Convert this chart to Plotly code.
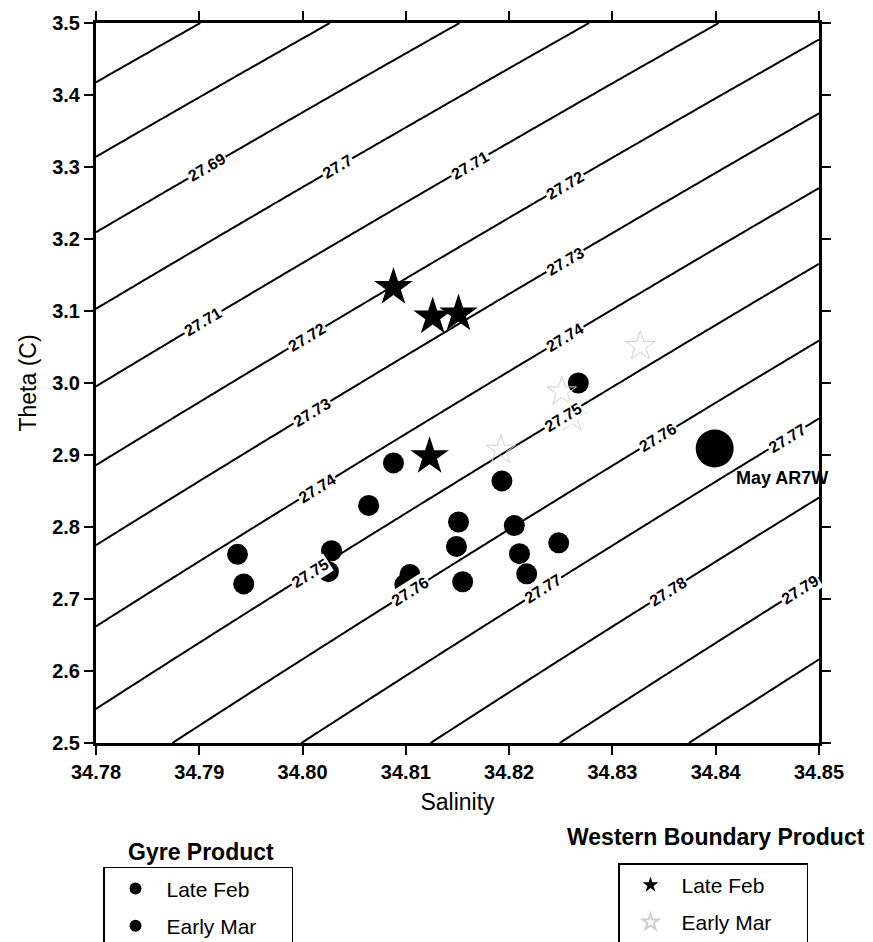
import numpy as np
import plotly.graph_objects as go

# ---------------- data ----------------
gyre_feb_sal = [34.7937, 34.7943, 34.8028, 34.8025, 34.8064, 34.8088, 34.8099, 34.8104]
gyre_feb_theta = [2.762, 2.721, 2.767, 2.738, 2.830, 2.889, 2.720, 2.734]
gyre_mar_sal = [34.8193, 34.8151, 34.8149, 34.8155, 34.8205, 34.8210, 34.8217, 34.8248, 34.8267]
gyre_mar_theta = [2.864, 2.807, 2.773, 2.724, 2.802, 2.763, 2.735, 2.778, 3.000]

wb_feb_sal = [34.8088, 34.8126, 34.8151, 34.8123]
wb_feb_theta = [3.133, 3.092, 3.096, 2.898]
wb_mar_sal = [34.8192, 34.8251, 34.8261, 34.8327]
wb_mar_theta = [2.907, 2.988, 2.952, 3.051]

ar7w_sal = [34.8399]
ar7w_theta = [2.909]
ar7w_label = "May AR7W"

sal_range = [34.78, 34.85]
theta_range = [2.5, 3.5]
sal_ticks = [34.78, 34.79, 34.80, 34.81, 34.82, 34.83, 34.84, 34.85]
theta_ticks = [2.5, 2.6, 2.7, 2.8, 2.9, 3.0, 3.1, 3.2, 3.3, 3.4, 3.5]

contour_start, contour_end, contour_step = 27.67, 27.80, 0.01

# contour labels: (sigma level, salinity where the label sits)
label_levels = [27.69, 27.70, 27.71, 27.71, 27.72, 27.72, 27.73, 27.73, 27.74, 27.74,
                27.75, 27.75, 27.76, 27.76, 27.77, 27.77, 27.78, 27.79]
label_sal = [34.7907, 34.8034, 34.7904, 34.8162, 34.8004, 34.8254, 34.8009, 34.8254, 34.8014, 34.8254,
             34.8007, 34.8252, 34.8104, 34.8344, 34.8233, 34.8469, 34.8354, 34.8482]


# ---------------- UNESCO 1980 EOS at p = 0 (sigma-theta) ----------------
def sigma0(S, T):
    S = np.asarray(S, dtype=float)
    T = np.asarray(T, dtype=float)
    rw = (999.842594 + 6.793952e-2 * T - 9.095290e-3 * T**2 + 1.001685e-4 * T**3
          - 1.120083e-6 * T**4 + 6.536332e-9 * T**5)
    A = 0.824493 - 4.0899e-3 * T + 7.6438e-5 * T**2 - 8.2467e-7 * T**3 + 5.3875e-9 * T**4
    B = -5.72466e-3 + 1.0227e-4 * T - 1.6546e-6 * T**2
    C = 4.8314e-4
    return rw + A * S + B * S**1.5 + C * S**2 - 1000.0


S_grid = np.linspace(sal_range[0], sal_range[1], 141)
T_grid = np.linspace(theta_range[0], theta_range[1], 201)
SS, TT = np.meshgrid(S_grid, T_grid)
sig = sigma0(SS, TT)

# ---------------- layout geometry (page body adds an 8px offset) ----------------
W, H = 873, 1000          # extra height lies below the visible window, leaving room for the legends
ml, mt = 88, 15
pw, ph = 723, 720
mr, mb = W - ml - pw, H - mt - ph
px_per_S = pw / (sal_range[1] - sal_range[0])
px_per_T = ph / (theta_range[1] - theta_range[0])

FONT = "Liberation Sans, Arial, Helvetica, sans-serif"
NB = "\u00a0"

fig = go.Figure()

fig.add_trace(go.Contour(
    x=S_grid, y=T_grid, z=sig,
    contours=dict(start=contour_start, end=contour_end + 1e-6, size=contour_step,
                  coloring="lines", showlabels=False),
    colorscale=[[0, "black"], [1, "black"]],
    line=dict(width=2),
    showscale=False, hoverinfo="skip", showlegend=False,
))

fig.add_trace(go.Scatter(
    x=gyre_feb_sal, y=gyre_feb_theta, mode="markers", name="Late Feb", legendgroup="g1",
    marker=dict(symbol="circle", size=21, color="black"), legend="legend",
))
fig.add_trace(go.Scatter(
    x=gyre_mar_sal, y=gyre_mar_theta, mode="markers", name="Early Mar" + NB * 5, legendgroup="g2",
    marker=dict(symbol="circle", size=21, color="black"), legend="legend",
))
fig.add_trace(go.Scatter(
    x=wb_feb_sal, y=wb_feb_theta, mode="markers", name="Late Feb", legendgroup="w1",
    marker=dict(symbol="star", size=29, color="black"), legend="legend2",
))
fig.add_trace(go.Scatter(
    x=wb_mar_sal, y=wb_mar_theta, mode="markers", name="Early Mar" + NB * 5, legendgroup="w2",
    marker=dict(symbol="star-open", size=22, color="#cfcfcf", line=dict(width=1, color="#cfcfcf")),
    legend="legend2",
))
fig.add_trace(go.Scatter(
    x=ar7w_sal, y=ar7w_theta, mode="markers", name=ar7w_label,
    marker=dict(symbol="circle", size=38, color="black"), showlegend=False,
))

annotations = []
# contour labels placed on the contour computed from the EOS
for lev, s in zip(label_levels, label_sal):
    lo, hi = 1.5, 4.5
    for _ in range(60):
        mid = 0.5 * (lo + hi)
        if sigma0(s, mid) > lev:
            lo = mid
        else:
            hi = mid
    t = 0.5 * (lo + hi)
    dS, dT = 1e-4, 1e-3
    gS = (sigma0(s + dS, t) - sigma0(s - dS, t)) / (2 * dS)
    gT = (sigma0(s, t + dT) - sigma0(s, t - dT)) / (2 * dT)
    slope = -gS / gT
    ang = np.degrees(np.arctan(slope * px_per_T / px_per_S))
    annotations.append(dict(
        x=s, y=t, xref="x", yref="y", text=("%.2f" % lev).rstrip("0"),
        showarrow=False, textangle=-ang, bgcolor="white", borderpad=1,
        font=dict(family=FONT, size=16, color="black", weight="bold"),
    ))

annotations.append(dict(
    x=ar7w_sal[0], y=ar7w_theta[0], xref="x", yref="y", text=ar7w_label,
    showarrow=False, xshift=67, yshift=-29,
    font=dict(family=FONT, size=18, color="black", weight="bold"),
))
annotations.append(dict(
    x=0.145, y=-0.151, xref="paper", yref="paper", text="Gyre Product",
    showarrow=False, xanchor="center", yanchor="middle",
    font=dict(family=FONT, size=23, color="black", weight="bold"),
))
annotations.append(dict(
    x=0.858, y=-0.131, xref="paper", yref="paper", text="Western Boundary Product",
    showarrow=False, xanchor="center", yanchor="middle",
    font=dict(family=FONT, size=23, color="black", weight="bold"),
))

axis_common = dict(
    showgrid=False, zeroline=False, showline=True, linecolor="black", linewidth=3,
    mirror="ticks", ticks="outside", ticklen=9, tickwidth=1.8, tickcolor="black",
    tickfont=dict(family=FONT, size=20, color="black", weight="bold"),
    automargin=False,
)

legend_common = dict(
    xanchor="left", yanchor="top", bordercolor="black", borderwidth=1.5, bgcolor="white",
    font=dict(family=FONT, size=21, color="black"),
    itemwidth=52, itemsizing="constant", tracegroupgap=7,
)

fig.update_layout(
    width=W, height=H,
    margin=dict(l=ml, r=mr, t=mt, b=mb, autoexpand=False),
    paper_bgcolor="white", plot_bgcolor="white",
    xaxis=dict(range=sal_range, tickvals=sal_ticks, ticktext=["%.2f" % v for v in sal_ticks],
               title=dict(text="Salinity", font=dict(family=FONT, size=23, color="black"), standoff=12),
               **axis_common),
    yaxis=dict(range=theta_range, tickvals=theta_ticks, ticktext=["%.1f" % v for v in theta_ticks],
               title=dict(text="Theta (C)", font=dict(family=FONT, size=23, color="black"), standoff=10),
               **axis_common),
    legend=dict(x=0.0097, y=-0.172, **legend_common),
    legend2=dict(x=0.722, y=-0.167, **legend_common),
    annotations=annotations,
    showlegend=True,
)

fig.write_html("out.html")
